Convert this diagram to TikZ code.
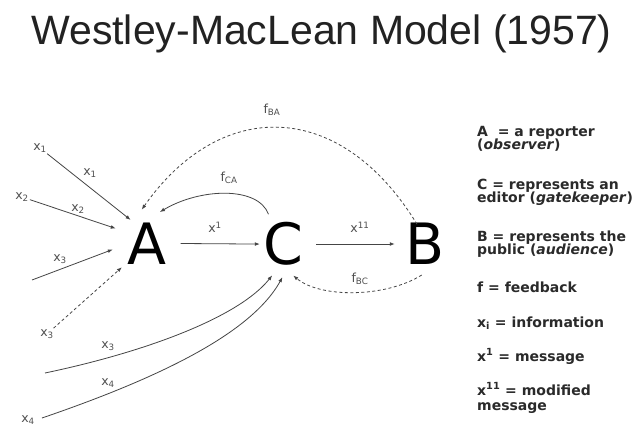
\documentclass[tikz,border=0pt]{standalone}
\usepackage{fontspec}
\setmainfont{DejaVu Sans}
\newfontfamily\titlefont{Liberation Sans}
\usetikzlibrary{arrows.meta}
\definecolor{linegray}{HTML}{454545}
\definecolor{labelgray}{HTML}{505050}
\definecolor{leggray}{HTML}{2A2A2A}
\definecolor{titlegray}{HTML}{222222}
\begin{document}
\begin{tikzpicture}[x=1pt,y=1pt,
  conn/.style={draw=linegray, line width=0.8pt, -{Latex[length=5pt,width=3.8pt]}},
  dashconn/.style={conn, dash pattern=on 3pt off 2.5pt},
  big/.style={circle, inner sep=0pt, font=\fontsize{57}{57}\selectfont},
  lbl/.style={text=labelgray, font=\fontsize{12.5}{12.5}\selectfont, inner sep=1pt},
  leg/.style={anchor=base west, inner sep=0pt, text=leggray, font=\bfseries\fontsize{14}{14}\selectfont}]
\useasboundingbox (0,0) rectangle (639,426);
\fill[white] (0,0) rectangle (639,426);

% title
\node[anchor=base, inner sep=0pt, text=titlegray, font=\titlefont\fontsize{41}{41}\selectfont] (title) at (321.5,381) {Westley-MacLean Model (1957)};

% main nodes
\node[big, minimum size=68pt] (A) at (146.5,182.5) {A};
\node[big, minimum size=66pt] (C) at (283,182) {C};
\node[big, minimum size=62pt] (B) at (425,182) {B};

% input labels and free ends
\node[lbl] (lx1) at (40,278) {x\textsubscript{1}};
\node[lbl] (lx2) at (22,229) {x\textsubscript{2}};
\node[lbl] (lx3d) at (47,92) {x\textsubscript{3}};
\node[lbl] (lx4) at (28,6) {x\textsubscript{4}};
\coordinate (s3) at (32,146);
\coordinate (s3c) at (45,53);
\coordinate (s4) at (42,8);

% mid labels
\node[lbl] (mx1) at (90,253) {x\textsubscript{1}};
\node[lbl] (mx2) at (78,217) {x\textsubscript{2}};
\node[lbl] (mx3) at (60,167) {x\textsubscript{3}};
\node[lbl] (mx3c) at (108,80) {x\textsubscript{3}};
\node[lbl] (mx4) at (108,43) {x\textsubscript{4}};
\node[lbl] (xone) at (215,199) {x\textsuperscript{1}};
\node[lbl] (xeleven) at (360,199) {x\textsuperscript{11}};
\node[lbl] (fBA) at (272,316) {f\textsubscript{BA}};
\node[lbl] (fCA) at (229,248) {f\textsubscript{CA}};
\node[lbl] (fBC) at (360,147) {f\textsubscript{BC}};

% inputs to A
\draw[conn, shorten >=-6pt] (lx1) -- (A.127);
\draw[conn] (lx2) -- (A.154);
\draw[conn] (s3) -- (A.190);
\draw[dashconn] (lx3d) -- (A.224);

% inputs to C
\draw[conn] (s3c) .. controls (150,75) and (240,110) .. (C.-109);
\draw[conn] (s4) .. controls (150,45) and (250,90) .. (C.-91);

% main flow
\draw[conn, shorten >=-10pt] (A.east) -- (C.west);
\draw[conn, shorten >=-1pt] (C.east) -- (B.west);

% feedback
\draw[conn] (C.116) .. controls (258,240) and (200,238) .. (A.67);
\draw[dashconn, shorten <=-10pt] (B.115) .. controls (340,328) and (220,328) .. (A.98);
\draw[dashconn] (B.-96) .. controls (385,128) and (320,128) .. (C.-72);

% legend
\node[leg] (l1) at (477,289) {A\ \ = a reporter};
\node[leg] (l2) at (477,276) {(\textit{observer})};
\node[leg] (l3) at (477,236) {C = represents an};
\node[leg] (l4) at (477,223) {editor (\textit{gatekeeper})};
\node[leg] (l5) at (477,185) {B = represents the};
\node[leg] (l6) at (477,172) {public (\textit{audience})};
\node[leg] (l7) at (477,134) {f = feedback};
\node[leg] (l8) at (477,99) {x\textsubscript{i} = information};
\node[leg] (l9) at (477,65) {x\textsuperscript{1} = message};
\node[leg] (l10) at (477,31) {x\textsuperscript{11} = modified};
\node[leg] (l11) at (477,16) {message};
\end{tikzpicture}
\end{document}
